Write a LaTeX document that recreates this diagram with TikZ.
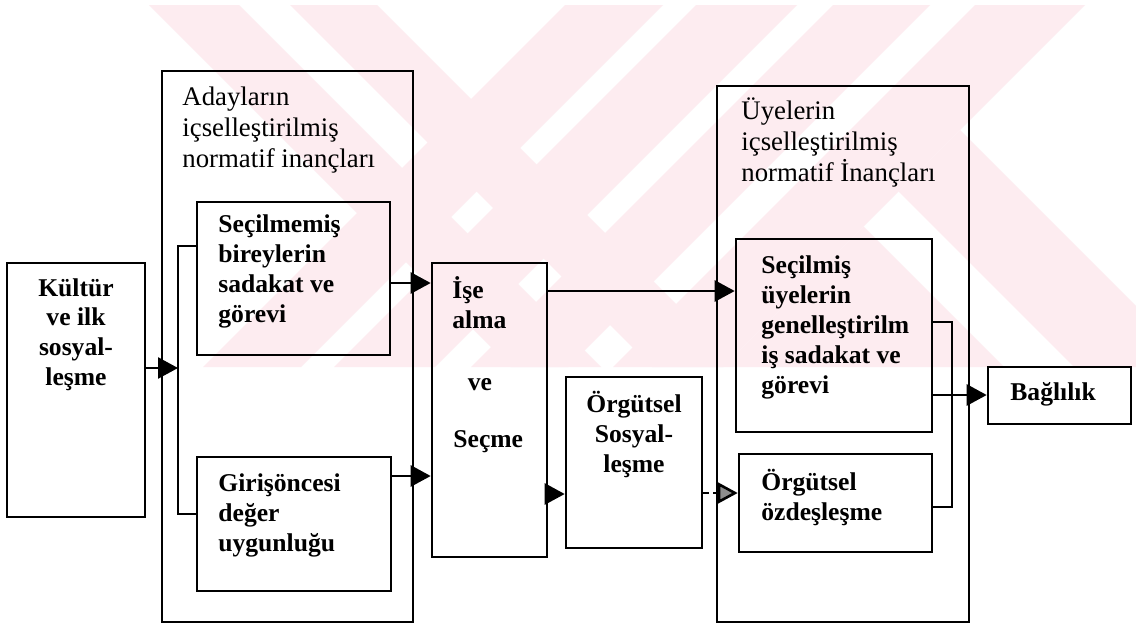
\documentclass[tikz,border=0pt]{standalone}
\usepackage{fontspec}
\setmainfont{Liberation Serif}
\usetikzlibrary{arrows.meta,fit,calc}
\definecolor{wmpink}{RGB}{253,236,240}
\begin{document}
\begin{tikzpicture}[x=0.5pt,y=-0.5pt,
  box/.style={draw,line width=1.3pt,inner sep=0pt},
  lbl/.style={inner sep=0pt,align=left,font=\fontsize{12.8}{15}\selectfont\bfseries},
  clbl/.style={inner sep=0pt,align=center,font=\fontsize{12.8}{14.8}\selectfont\bfseries},
  hdr/.style={inner sep=0pt,align=left,font=\fontsize{13.4}{15.3}\selectfont},
  conn/.style={line width=1.3pt},
  arr/.style={conn,-{Triangle[length=10pt,width=10.5pt]}},
  garr/.style={conn,densely dashed,-{Triangle[length=10pt,width=10.5pt,fill=black!45]}},
  wm/.style={fill=wmpink,draw=none},
]
\useasboundingbox (0,0) rectangle (1136,627);
\fill[white] (0,0) rectangle (1136,627);
% faint watermark (diagonal stripes)
\begin{scope}
\clip (0,5) rectangle (1136,367);
\fill[wm] (149,5) -- (239,5) -- (601,367) -- (511,367) -- cycle;
\fill[wm] (290,5) -- (377,5) -- (739,367) -- (652,367) -- cycle;
\fill[wm] (565,5) -- (663,5) -- (301,367) -- (203,367) -- cycle;
\fill[wm] (696,5) -- (797,5) -- (435,367) -- (334,367) -- cycle;
\fill[wm] (833,5) -- (930,5) -- (568,367) -- (471,367) -- cycle;
\fill[wm] (975,5) -- (1085,5) -- (723,367) -- (613,367) -- cycle;
\begin{scope}
\clip (1085,5) -- (1136,5) -- (1136,367) -- (723,367) -- cycle;
\fill[wm] (377,5) -- (642,5) -- (1004,367) -- (739,367) -- cycle;
\fill[wm] (712,5) -- (835,5) -- (1197,367) -- (1074,367) -- cycle;
\end{scope}
\end{scope}
% boxes
\node[box,fit={(7,263)(145,517)}] (k) {};
\node[box,fit={(162,71)(413,622)}] (lb) {};
\node[box,fit={(197,202)(390,355)}] (s1) {};
\node[box,fit={(197,457)(391,591)}] (s2) {};
\node[box,fit={(432,263)(547,557)}] (ise) {};
\node[box,fit={(566,377)(702,548)}] (os) {};
\node[box,fit={(717,86)(969,622)}] (rb) {};
\node[box,fit={(736,239)(932,432)}] (m1) {};
\node[box,fit={(739,454)(932,552)}] (m2) {};
\node[box,fit={(988,367)(1131,424)}] (b) {};
% texts (anchor base = baseline of last line)
\node[clbl,anchor=base] (kt) at (76,385) {Kültür\\ve ilk\\sosyal-\\leşme};
\node[hdr,anchor=base west] (at) at (182,167) {Adayların\\içselleştirilmiş\\normatif inançları};
\node[lbl,anchor=base west] (s1t) at (218,322) {Seçilmemiş\\bireylerin\\sadakat ve\\görevi};
\node[lbl,anchor=base west] (s2t) at (218,551) {Girişöncesi\\değer\\uygunluğu};
\node[lbl,anchor=base west] (it) at (452,328) {İşe\\alma};
\node[lbl,anchor=base] (vt) at (480,390) {ve};
\node[lbl,anchor=base west] (st) at (453,447) {Seçme};
\node[clbl,anchor=base] (ost) at (634,472) {Örgütsel\\Sosyal-\\leşme};
\node[hdr,anchor=base west] (ut) at (741,181) {Üyelerin\\içselleştirilmiş\\normatif İnançları};
\node[lbl,anchor=base west] (m1t) at (761,393) {Seçilmiş\\üyelerin\\genelleştirilm\\iş sadakat ve\\görevi};
\node[lbl,anchor=base west] (m2t) at (761,520) {Örgütsel\\özdeşleşme};
\node[lbl,anchor=base west] (bt) at (1010,400) {Bağlılık};
% connector coordinates
\coordinate (bl) at (178,368);
\coordinate (blt) at (178,246);
\coordinate (blb) at (178,514);
\coordinate (y1) at (0,283);
\coordinate (y2) at (0,476);
\coordinate (y3) at (0,291);
\coordinate (y4) at (0,494);
\coordinate (y5) at (0,493);
\coordinate (y6) at (0,395);
\coordinate (brt) at (952,322);
\coordinate (brb) at (952,507);
% connectors
\draw[conn] (s1.west |- blt) -- (blt) -- (blb) -- (s2.west |- blb);
\draw[arr] (k.east |- bl) -- (bl);
\draw[arr] (s1.east |- y1) -- (ise.west |- y1);
\draw[arr] (s2.east |- y2) -- (ise.west |- y2);
\draw[arr] (ise.east |- y3) -- (m1.west |- y3);
\draw[arr] (ise.east |- y4) -- (os.west |- y4);
\draw[garr] (os.east |- y5) -- (m2.west |- y5);
\draw[conn] (m1.east |- brt) -- (brt) -- (brb) -- (m2.east |- brb);
\draw[arr] (m1.east |- y6) -- (b.west |- y6);
\end{tikzpicture}
\end{document}
